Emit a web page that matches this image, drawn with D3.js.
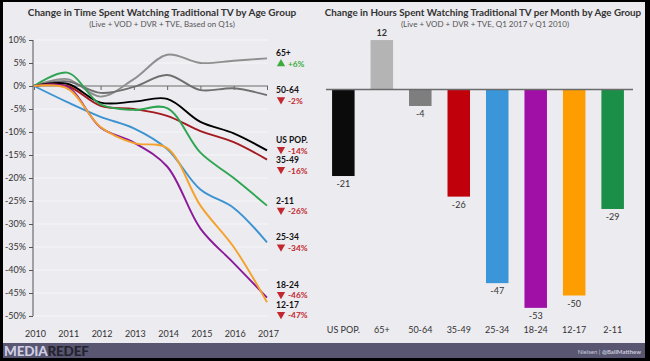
<!DOCTYPE html>
<html>
<head>
<meta charset="utf-8">
<script src="https://cdn.jsdelivr.net/npm/d3@7"></script>
<style>
  body { margin: 0; background: #000; }
  svg { display: block; font-family: Lato, "Open Sans", sans-serif; }
</style>
</head>
<body>
<svg width="650" height="361"></svg>
<script>
// ---- left chart data (% change vs 2010) ----
var years = [2010, 2011, 2012, 2013, 2014, 2015, 2016, 2017];
var pctTicks = [10, 5, 0, -5, -10, -15, -20, -25, -30, -35, -40, -45, -50];

var age65    = [0, 1.5, -2.3, 1.5, 6.8, 5, 5.5, 6];
var age5064  = [0, 1, -1.5, -0.2, 2.4, -0.9, -0.5, -2];
var usPop    = [0, 0.5, -3.6, -3.4, -2.8, -7.8, -10.3, -14];
var age3549  = [0, 0, -4.3, -5, -6.5, -9.8, -12.2, -16];
var age211   = [0, 2.9, -4, -5.2, -4.8, -14.5, -20, -26];
var age2534  = [0, -3.5, -6.7, -9.2, -13.7, -22.5, -26.5, -34];
var age1824  = [0, -0.2, -9, -12.3, -17.5, -31, -38.5, -46];
var age1217  = [0, -0.5, -8.9, -12.4, -13.5, -26, -35, -47];

var lineNames  = ["65+", "50-64", "US POP.", "35-49", "2-11", "25-34", "18-24", "12-17"];
var lineValues = [age65, age5064, usPop, age3549, age211, age2534, age1824, age1217];
var endLabels  = ["+6%", "-2%", "-14%", "-16%", "-26%", "-34%", "-46%", "-47%"];
var lineColors = ["#8f8f8f", "#6f6f6f", "#000000", "#a3191e", "#2fa552", "#3b93d1", "#8a1a98", "#f5a22c"];

// ---- right chart data (hours per month, Q1 2017 v Q1 2010) ----
var barCats   = ["US POP.", "65+", "50-64", "35-49", "25-34", "18-24", "12-17", "2-11"];
var barValues = [-21, 12, -4, -26, -47, -53, -50, -29];
var barColors = ["#0b0b0b", "#b4b4b4", "#7e7e7e", "#c0000b", "#3a96d9", "#a00fa6", "#fd9d00", "#1b8f48"];

var svg = d3.select("svg");

// frame + panel + footer
svg.append("rect").attr("width", 650).attr("height", 361).attr("fill", "#000");
svg.append("rect").attr("x", 3).attr("y", 2).attr("width", 642).attr("height", 341).attr("fill", "#ecebf0");
svg.append("rect").attr("x", 3).attr("y", 343).attr("width", 642).attr("height", 15).attr("fill", "#585670");

// ================= LEFT CHART =================
var x = d3.scaleLinear().domain([2010, 2017]).range([34, 267]);
var y = d3.scaleLinear().domain([-50, 10]).range([316, 40]);

var left = svg.append("g");

// faint gridlines
left.selectAll(".grid").data(pctTicks).enter().append("line")
  .attr("x1", 34).attr("x2", 268)
  .attr("y1", function(d) { return y(d); }).attr("y2", function(d) { return y(d); })
  .style("stroke", "#f6f6f9").style("stroke-width", 1);

// y axis
var yAxis = left.append("g").attr("transform", "translate(33,0)")
  .call(d3.axisLeft(y).tickValues(pctTicks).tickSize(4).tickFormat(function(d) { return d + "%"; }));
yAxis.select(".domain").attr("stroke", "#555").attr("d", "M0," + y(10) + "V" + y(-50));
yAxis.selectAll(".tick line").attr("stroke", "#555").attr("x1", -4).attr("x2", 0);
yAxis.selectAll("text").attr("x", -7).style("font-size", "9px").style("fill", "#333").style("font-family", "Lato, sans-serif");

// zero line with year ticks
var xAxis = left.append("g").attr("transform", "translate(0," + y(0) + ")")
  .call(d3.axisBottom(x).tickValues(years).tickSize(4).tickFormat(""));
xAxis.select(".domain").attr("stroke", "#666").attr("d", "M33,0H268");
xAxis.selectAll(".tick line").attr("stroke", "#666");

// year labels at the bottom
left.selectAll(".yr").data(years).enter().append("text")
  .attr("x", function(d) { return x(d) + 1.5; }).attr("y", 337)
  .attr("text-anchor", "middle")
  .style("font-size", "9px").style("fill", "#333")
  .text(function(d) { return d; });

var line = d3.line()
  .x(function(d, i) { return x(years[i]); })
  .y(function(d) { return y(d); })
  .curve(d3.curveCatmullRom.alpha(0.5));

left.selectAll(".series").data(lineValues).enter().append("path")
  .attr("d", line)
  .style("fill", "none")
  .style("stroke", function(d, i) { return lineColors[i]; })
  .style("stroke-width", 1.9);

// end labels, spread so the two-line blocks do not overlap
var blocks = lineValues.map(function(v, i) {
  return { i: i, target: y(v[v.length - 1]), c: y(v[v.length - 1]) };
}).sort(function(a, b) { return a.target - b.target; });
for (var it = 0; it < 60; it++) {
  for (var k = 1; k < blocks.length; k++) {
    var gap = blocks[k].c - blocks[k - 1].c;
    if (gap < 20) {
      var push = (20 - gap) / 2;
      blocks[k].c += push; blocks[k - 1].c -= push;
    }
  }
}

var lab = left.selectAll(".endlab").data(blocks).enter().append("g")
  .attr("transform", function(d) { return "translate(276," + d.c + ")"; });
lab.append("text")
  .attr("y", -2)
  .style("font-size", "8.5px").style("font-weight", "bold").style("fill", "#111")
  .text(function(d) { return lineNames[d.i]; });
lab.append("path")
  .attr("transform", function(d) {
    var up = endLabels[d.i].charAt(0) === "+";
    return "translate(5," + (up ? 5.5 : 4.5) + ") rotate(" + (up ? 0 : 180) + ")";
  })
  .attr("d", d3.symbol(d3.symbolTriangle, 30))
  .style("fill", function(d) { return endLabels[d.i].charAt(0) === "+" ? "#3aab3c" : "#c1272d"; });
lab.append("text")
  .attr("x", 12).attr("y", 8.5)
  .style("font-size", "8.3px").style("font-weight", "bold")
  .style("fill", function(d) { return endLabels[d.i].charAt(0) === "+" ? "#3aab3c" : "#c1272d"; })
  .text(function(d) { return endLabels[d.i]; });

// titles
left.append("text").attr("x", 162).attr("y", 16).attr("text-anchor", "middle")
  .style("font-size", "10px").style("font-weight", "bold").style("fill", "#333")
  .text("Change in Time Spent Watching Traditional TV by Age Group");
left.append("text").attr("x", 162).attr("y", 27).attr("text-anchor", "middle")
  .style("font-size", "8px").style("fill", "#555")
  .text("(Live + VOD + DVR + TVE, Based on Q1s)");

// ================= RIGHT CHART =================
var xb = d3.scaleBand().domain(barCats).range([324, 632]).paddingInner(0.415).paddingOuter(0.21);
var yb = d3.scaleLinear().domain([-55, 15]).range([89.5 + 4.12 * 55, 89.5 - 4.12 * 15]);

var right = svg.append("g");

right.selectAll(".bar").data(barValues).enter().append("rect")
  .attr("x", function(d, i) { return xb(barCats[i]); })
  .attr("width", xb.bandwidth())
  .attr("y", function(d) { return yb(Math.max(0, d)); })
  .attr("height", function(d) { return Math.abs(yb(d) - yb(0)); })
  .style("fill", function(d, i) { return barColors[i]; });

right.append("line")
  .attr("x1", 326).attr("x2", 633).attr("y1", yb(0)).attr("y2", yb(0))
  .style("stroke", "#6a6a6a").style("stroke-width", 1.3);

right.selectAll(".val").data(barValues).enter().append("text")
  .attr("x", function(d, i) { return xb(barCats[i]) + xb.bandwidth() / 2; })
  .attr("y", function(d) { return d >= 0 ? yb(d) - 4 : yb(d) + 11; })
  .attr("text-anchor", "middle")
  .style("font-size", "9px").style("fill", "#333")
  .style("font-weight", function(d) { return d >= 0 ? "bold" : "normal"; })
  .text(function(d) { return d; });

right.selectAll(".cat").data(barCats).enter().append("text")
  .attr("x", function(d) { return xb(d) + xb.bandwidth() / 2; })
  .attr("y", 333)
  .attr("text-anchor", "middle")
  .style("font-size", "9px").style("fill", "#333")
  .text(function(d) { return d; });

right.append("text").attr("x", 483).attr("y", 16).attr("text-anchor", "middle")
  .style("font-size", "9.8px").style("font-weight", "bold").style("fill", "#333")
  .text("Change in Hours Spent Watching Traditional TV per Month by Age Group");
right.append("text").attr("x", 485).attr("y", 27).attr("text-anchor", "middle")
  .style("font-size", "8px").style("fill", "#555")
  .text("(Live + VOD + DVR + TVE, Q1 2017 v Q1 2010)");

// footer
var logo = svg.append("text").attr("x", 4).attr("y", 356)
  .style("font-size", "13.5px").style("font-weight", "900").style("letter-spacing", "-0.2px");
logo.append("tspan").style("fill", "#cfcde6").text("MEDIA");
logo.append("tspan").style("fill", "#23222f").text("REDEF");

var credit = svg.append("text").attr("x", 641).attr("y", 354).attr("text-anchor", "end")
  .style("font-size", "6px").style("fill", "#c9c8da");
credit.append("tspan").text("Nielsen  |  ");
credit.append("tspan").style("font-weight", "bold").text("@BallMatthew");
</script>
</body>
</html>
